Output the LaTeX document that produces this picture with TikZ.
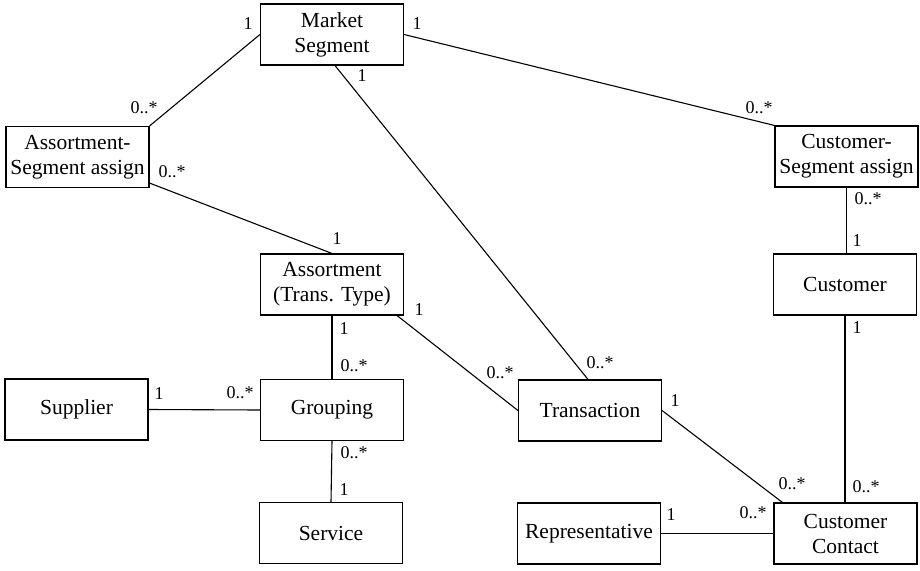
\documentclass[tikz,border=0pt]{standalone}
\usepackage{fontspec}
\setmainfont{Liberation Serif}
\usetikzlibrary{calc}
\begin{document}
\begin{tikzpicture}[x=1pt,y=-1pt,
  ent/.style={draw, line width=1.1pt, minimum width=143pt, minimum height=61pt,
    inner sep=0pt, align=center, font=\fontsize{21.5}{25}\selectfont},
  mult/.style={inner sep=0pt, font=\fontsize{18}{20}\selectfont},
  link/.style={line width=1.1pt}]
\useasboundingbox (0,0) rectangle (920,570);

% entities
\node[ent] (ms)   at (332,34.5)  {Market\\Segment};
\node[ent] (asa)  at (77.5,157)  {Assortment-\\Segment assign};
\node[ent] (csa)  at (846.5,156.5) {Customer-\\Segment assign};
\node[ent] (ast)  at (332,284.5) {Assortment\\(Trans. Type)};
\node[ent] (cust) at (845,284.5) {Customer};
\node[ent] (sup)  at (76.5,409.5) {Supplier};
\node[ent] (grp)  at (332,410)   {Grouping};
\node[ent] (trn)  at (590,410.5) {Transaction};
\node[ent] (svc)  at (331,533)   {Service};
\node[ent] (rep)  at (589,533.5) {Representative};
\node[ent] (cc)   at (845.5,533.5) {Customer\\Contact};

% associations
\draw[link] (ms.west) -- (asa.north east);
\draw[link] (ms.east) -- (csa.north west);
\draw[link] ([xshift=3pt]ms.south) -- ([xshift=-2pt]trn.north);
\draw[link] ([yshift=5pt]asa.south east) -- (ast.north);
\draw[link] ([xshift=-7pt]ast.south east) -- (trn.west);
\draw[link] (ast.south) -- (grp.north);
\draw[link] (sup.east) -- (grp.west);
\draw[link] (grp.south) -- (svc.north);
\draw[link] (csa.south) -- (csa.south |- cust.north);
\draw[link] (cust.south) -- (cust.south |- cc.north);
\draw[link] (trn.east) -- ([xshift=9pt]cc.north west);
\draw[link] (rep.east) -- (cc.west);

% multiplicities
\node[mult] (m1)  at (248,24)  {1};
\node[mult] (m2)  at (417,24)  {1};
\node[mult] (m3)  at (362,76)  {1};
\node[mult] (m4)  at (144,108) {0..*};
\node[mult] (m5)  at (172,172) {0..*};
\node[mult] (m6)  at (759,108) {0..*};
\node[mult] (m7)  at (868,199) {0..*};
\node[mult] (m8)  at (857,241) {1};
\node[mult] (m9)  at (857,328) {1};
\node[mult] (m10) at (337,239) {1};
\node[mult] (m11) at (419,310) {1};
\node[mult] (m12) at (344,329) {1};
\node[mult] (m13) at (354,366) {0..*};
\node[mult] (m14) at (500,373) {0..*};
\node[mult] (m15) at (600,363) {0..*};
\node[mult] (m16) at (159,394) {1};
\node[mult] (m17) at (240,393) {0..*};
\node[mult] (m18) at (354,453) {0..*};
\node[mult] (m19) at (344,490) {1};
\node[mult] (m20) at (675,401) {1};
\node[mult] (m21) at (792,484) {0..*};
\node[mult] (m22) at (866,487) {0..*};
\node[mult] (m23) at (671,515) {1};
\node[mult] (m24) at (753,513) {0..*};
\end{tikzpicture}
\end{document}
